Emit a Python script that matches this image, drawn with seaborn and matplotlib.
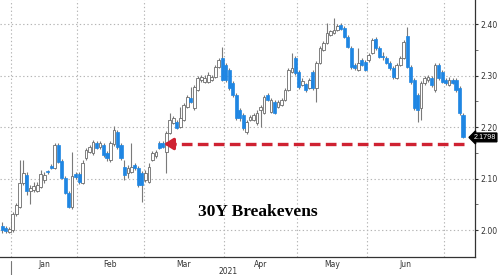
import numpy as np
import pandas as pd
import matplotlib
matplotlib.use("Agg")
import matplotlib.pyplot as plt
import seaborn as sns

# ---- data ----
month_labels = ["Jan", "Feb", "Mar", "Apr", "May", "Jun"]
# trading days per segment: Dec(2020 tail), Jan..Jun, Jul(head)
month_counts = [3, 19, 19, 23, 21, 20, 22, 6]
year_label = "2021"

opens = [2.008, 2.004, 1.996, 2.000, 2.031, 2.045, 2.091, 2.107, 2.076, 2.078,
         2.076, 2.083, 2.097, 2.115, 2.124, 2.120, 2.165, 2.134, 2.101, 2.072,
         2.045, 2.109, 2.109, 2.091, 2.140, 2.151, 2.150, 2.169, 2.161, 2.165,
         2.150, 2.136, 2.167, 2.190, 2.165, 2.122, 2.111, 2.113, 2.126, 2.120,
         2.111, 2.097, 2.093, 2.136, 2.144, 2.169, 2.169, 2.151, 2.188, 2.208,
         2.210, 2.200, 2.214, 2.239, 2.256, 2.237, 2.272, 2.291, 2.287, 2.287,
         2.291, 2.297, 2.317, 2.334, 2.320, 2.311, 2.285, 2.262, 2.233, 2.223,
         2.190, 2.214, 2.214, 2.208, 2.233, 2.227, 2.262, 2.229, 2.249, 2.239,
         2.243, 2.252, 2.272, 2.307, 2.334, 2.307, 2.282, 2.283, 2.276, 2.307,
         2.276, 2.324, 2.350, 2.363, 2.379, 2.383, 2.388, 2.398, 2.392, 2.375,
         2.353, 2.320, 2.311, 2.330, 2.326, 2.330, 2.344, 2.371, 2.353, 2.338,
         2.334, 2.324, 2.315, 2.295, 2.320, 2.334, 2.377, 2.317, 2.291, 2.262,
         2.237, 2.285, 2.291, 2.295, 2.272, 2.320, 2.307, 2.291, 2.282, 2.291,
         2.291, 2.276, 2.223]
highs = [2.016, 2.008, 2.006, 2.035, 2.052, 2.136, 2.136, 2.113, 2.087, 2.093,
         2.093, 2.117, 2.113, 2.117, 2.128, 2.169, 2.169, 2.138, 2.105, 2.076,
         2.151, 2.113, 2.113, 2.136, 2.159, 2.165, 2.175, 2.173, 2.173, 2.169,
         2.153, 2.173, 2.202, 2.194, 2.169, 2.136, 2.126, 2.169, 2.130, 2.124,
         2.115, 2.117, 2.130, 2.153, 2.155, 2.173, 2.173, 2.192, 2.227, 2.221,
         2.214, 2.239, 2.247, 2.262, 2.278, 2.282, 2.299, 2.301, 2.301, 2.307,
         2.301, 2.320, 2.334, 2.355, 2.324, 2.315, 2.289, 2.266, 2.237, 2.227,
         2.214, 2.223, 2.227, 2.233, 2.243, 2.262, 2.266, 2.256, 2.252, 2.252,
         2.256, 2.276, 2.315, 2.344, 2.338, 2.311, 2.295, 2.285, 2.295, 2.311,
         2.328, 2.357, 2.367, 2.402, 2.388, 2.412, 2.400, 2.402, 2.396, 2.379,
         2.357, 2.324, 2.353, 2.334, 2.330, 2.344, 2.373, 2.375, 2.357, 2.346,
         2.338, 2.328, 2.318, 2.324, 2.338, 2.369, 2.394, 2.320, 2.295, 2.266,
         2.289, 2.299, 2.301, 2.299, 2.324, 2.324, 2.311, 2.295, 2.297, 2.295,
         2.295, 2.280, 2.227]
lows = [1.994, 1.994, 1.994, 1.996, 2.027, 2.043, 2.087, 2.068, 2.050, 2.074,
        2.074, 2.082, 2.091, 2.109, 2.118, 2.118, 2.130, 2.099, 2.070, 2.043,
        2.041, 2.099, 2.089, 2.089, 2.136, 2.150, 2.146, 2.157, 2.157, 2.142,
        2.134, 2.132, 2.163, 2.157, 2.136, 2.097, 2.101, 2.111, 2.117, 2.083,
        2.054, 2.093, 2.091, 2.134, 2.140, 2.157, 2.159, 2.111, 2.186, 2.206,
        2.196, 2.198, 2.212, 2.237, 2.247, 2.233, 2.270, 2.287, 2.285, 2.285,
        2.289, 2.295, 2.315, 2.289, 2.287, 2.272, 2.258, 2.214, 2.212, 2.194,
        2.186, 2.212, 2.212, 2.204, 2.200, 2.225, 2.250, 2.227, 2.225, 2.237,
        2.241, 2.250, 2.270, 2.305, 2.301, 2.274, 2.280, 2.268, 2.274, 2.272,
        2.249, 2.322, 2.348, 2.361, 2.377, 2.381, 2.386, 2.388, 2.373, 2.353,
        2.313, 2.311, 2.309, 2.318, 2.309, 2.326, 2.342, 2.350, 2.334, 2.330,
        2.322, 2.311, 2.293, 2.293, 2.318, 2.332, 2.315, 2.283, 2.233, 2.210,
        2.214, 2.282, 2.287, 2.278, 2.268, 2.291, 2.285, 2.282, 2.280, 2.283,
        2.268, 2.223, 2.179]
closes = [2.000, 1.998, 2.002, 2.031, 2.049, 2.091, 2.111, 2.076, 2.082, 2.085,
          2.087, 2.109, 2.107, 2.113, 2.120, 2.165, 2.132, 2.101, 2.072, 2.045,
          2.105, 2.103, 2.093, 2.130, 2.155, 2.161, 2.171, 2.159, 2.169, 2.146,
          2.140, 2.169, 2.194, 2.161, 2.140, 2.107, 2.120, 2.122, 2.120, 2.087,
          2.087, 2.111, 2.122, 2.150, 2.151, 2.159, 2.161, 2.188, 2.214, 2.217,
          2.198, 2.217, 2.243, 2.258, 2.249, 2.278, 2.295, 2.297, 2.295, 2.301,
          2.297, 2.317, 2.330, 2.291, 2.291, 2.276, 2.262, 2.217, 2.217, 2.198,
          2.210, 2.219, 2.223, 2.227, 2.239, 2.258, 2.252, 2.252, 2.227, 2.249,
          2.252, 2.272, 2.311, 2.315, 2.305, 2.278, 2.289, 2.272, 2.291, 2.276,
          2.324, 2.353, 2.363, 2.383, 2.386, 2.388, 2.396, 2.390, 2.375, 2.355,
          2.317, 2.315, 2.324, 2.320, 2.311, 2.340, 2.369, 2.353, 2.336, 2.336,
          2.324, 2.315, 2.297, 2.320, 2.334, 2.365, 2.317, 2.287, 2.237, 2.233,
          2.285, 2.295, 2.297, 2.282, 2.320, 2.295, 2.287, 2.285, 2.291, 2.285,
          2.272, 2.227, 2.1798]

support_level = 2.167
title_text = "30Y Breakevens"
yticks = [2.00, 2.10, 2.20, 2.30, 2.40]

# ---- style ----
sns.set_theme(style="white")
plt.rcParams["font.family"] = ["DejaVu Sans"]

df = pd.DataFrame({"open": opens, "high": highs, "low": lows, "close": closes})
df["pos"] = np.arange(len(df))
df["up"] = df["close"] >= df["open"]

fig = plt.figure(figsize=(5.0, 2.75), dpi=100)
ax = fig.add_axes([0.0, 18 / 275, 475 / 500, 257 / 275])

blue = "#1f86e3"
edge_up = "#6b6b6b"
wick_c = "#7a7a7a"

# month boundaries
cum = np.cumsum(month_counts)
bounds = cum[:-1] - 0.5          # Jan 1 ... Jul 1
centers = (bounds[:-1] + bounds[1:]) / 2

# grid
for yv in yticks:
    ax.axhline(yv, color="#b5b5b5", lw=0.8, ls=(0, (1.2, 2.2)), zorder=0)
for b in bounds:
    ax.axvline(b, color="#b5b5b5", lw=0.8, ls=(0, (1.2, 2.2)), zorder=0)

# wicks
ax.vlines(df["pos"], df["low"], df["high"], color=wick_c, lw=0.8, zorder=1)

# bodies
body_h = (df["close"] - df["open"]).abs().clip(lower=0.0015)
body_b = df[["open", "close"]].min(axis=1)
up = df["up"]
ax.bar(df["pos"][up], body_h[up], bottom=body_b[up], width=0.78,
       color="white", edgecolor=edge_up, linewidth=0.6, zorder=2)
ax.bar(df["pos"][~up], body_h[~up], bottom=body_b[~up], width=0.88,
       color=blue, edgecolor=blue, linewidth=0.5, zorder=2)

# red dashed arrow
last = len(df) - 1
ax.plot([last + 0.3, 48.5], [support_level, support_level], color="#cf2232",
        lw=2.4, ls=(0, (3.2, 1.6)), solid_capstyle="butt", zorder=3)
ax.annotate("", xy=(46.3, support_level), xytext=(49.5, support_level),
            arrowprops=dict(arrowstyle="-|>,head_length=0.45,head_width=0.28",
                            color="#cf2232", lw=2.3, shrinkA=0, shrinkB=0),
            zorder=3)

# limits
ax.set_xlim(-0.66, 135.44)
ax.set_ylim(1.9476, 2.4466)

# axes styling
for s in ["left", "top"]:
    ax.spines[s].set_visible(False)
for s in ["right", "bottom"]:
    ax.spines[s].set_color("#333333")
    ax.spines[s].set_linewidth(0.9)

ax.yaxis.tick_right()
ax.set_yticks(yticks)
ax.set_yticklabels([f"{v:.2f}" for v in yticks])
ax.set_yticks([2.05, 2.15, 2.25, 2.35], minor=True)
ax.tick_params(axis="y", which="major", direction="out", length=2.5, width=0.8,
               colors="#333333", labelsize=5.6, pad=1.5)
ax.tick_params(axis="y", which="minor", direction="out", length=1.8, width=0.6,
               colors="#555555")

ax.set_xticks(bounds)
ax.set_xticklabels([])
ax.tick_params(axis="x", which="major", direction="out", length=2.5, width=0.7,
               colors="#555555")
for c, lab in zip(centers, month_labels):
    ax.text(c, -0.013, lab, transform=ax.get_xaxis_transform(), ha="center",
            va="top", fontsize=5.5, color="#333333")
ax.text(centers.mean() + 1.5, -0.037, year_label, transform=ax.get_xaxis_transform(),
        ha="center", va="top", fontsize=5.5, color="#333333")
# year separator tick
ax.plot([bounds[0], bounds[0]], [-0.015, -0.07], transform=ax.get_xaxis_transform(),
        color="#777777", lw=0.8, clip_on=False)

# price tag (right-aligned inside the figure)
tag_y = ax.transData.transform((0, closes[-1]))[1] / fig.bbox.height
fig.text(0.992, tag_y, f"{closes[-1]:.4f}", ha="right", va="center",
         fontsize=5.2, color="white", family=["Liberation Sans", "DejaVu Sans"],
         bbox=dict(boxstyle="larrow,pad=0.12", fc="black", ec="black"))

# title
fig.text(258 / 500, 1 - 212 / 275, title_text, ha="center", va="center",
         fontsize=12.5, fontweight="bold", family=["Liberation Serif", "DejaVu Serif"],
         color="black")

fig.savefig("out.png", dpi=100)
